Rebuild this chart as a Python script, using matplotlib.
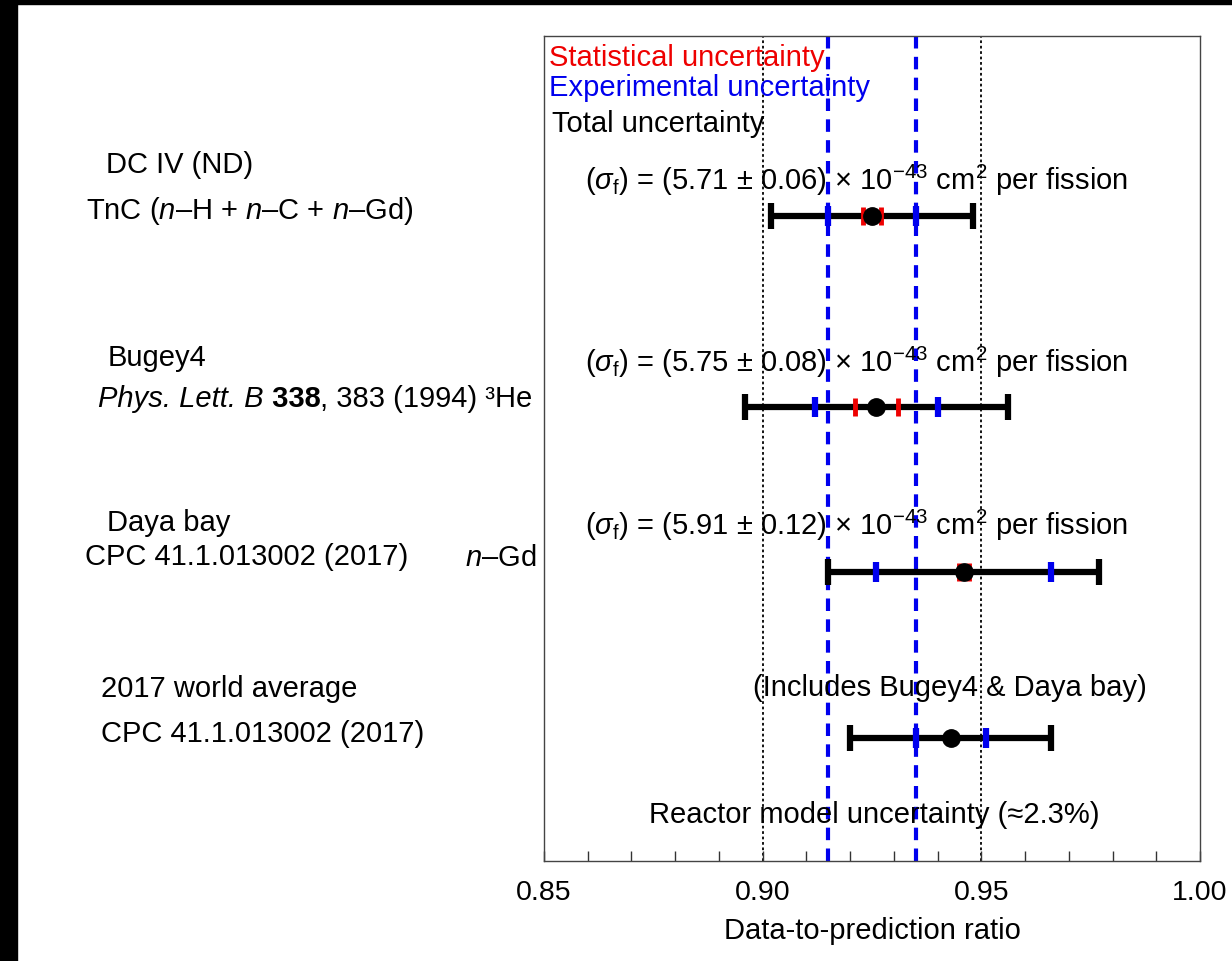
import matplotlib
matplotlib.use("Agg")
import matplotlib.pyplot as plt
from matplotlib.patches import Rectangle
from matplotlib.ticker import MultipleLocator

plt.rcParams["font.family"] = ["Liberation Sans", "DejaVu Sans"]
plt.rcParams["mathtext.fontset"] = "custom"
plt.rcParams["mathtext.rm"] = "Liberation Sans"
plt.rcParams["mathtext.it"] = "Liberation Sans:italic"
plt.rcParams["mathtext.bf"] = "Liberation Sans:bold"

# Measurements: central ratio and symmetric uncertainties
experiments = ["DC IV (ND)", "Bugey4", "Daya bay", "2017 world average"]
ratio = [0.925, 0.926, 0.946, 0.943]
total_err = [0.023, 0.030, 0.031, 0.023]
exp_err = [0.010, 0.014, 0.020, 0.008]
stat_err = [0.002, 0.005, 0.0012, None]
sigma_f = ["5.71", "5.75", "5.91"]
sigma_f_err = ["0.06", "0.08", "0.12"]

# Reference lines
model_band = [0.915, 0.935]
guide_lines = [0.90, 0.95]
xticks = [0.85, 0.90, 0.95, 1.00]

rows = [1.80, 3.71, 5.36, 7.02]
formula_rows = [1.43, 3.25, 4.88]

fig = plt.figure(figsize=(12.32, 9.62), dpi=100)
fig.patches.append(Rectangle((0, 0), 17 / 1232, 1, transform=fig.transFigure,
                             color="black", zorder=-10))
fig.patches.append(Rectangle((0, 1 - 5 / 962), 1, 5 / 962, transform=fig.transFigure,
                             color="black", zorder=-10))

ax = fig.add_axes([544 / 1232, 1 - 862 / 962, 656 / 1232, 825 / 962])
ax.set_xlim(0.85, 1.00)
ax.set_ylim(8.25, 0)

for x in guide_lines:
    ax.axvline(x, color="black", ls=(0, (1.5, 1.5)), lw=1.3, zorder=1)
for x in model_band:
    ax.axvline(x, color="#0000ee", ls=(0, (3, 2)), lw=3, zorder=1)

for i, y in enumerate(rows):
    ax.errorbar(ratio[i], y, xerr=total_err[i], fmt="none", ecolor="black",
                elinewidth=4.5, capsize=9.5, capthick=4.5, zorder=3)
    ax.errorbar(ratio[i], y, xerr=exp_err[i], fmt="none", ecolor="#0000ee",
                elinewidth=0, capsize=7, capthick=4.5, zorder=4)
    if stat_err[i] is not None:
        ax.errorbar(ratio[i], y, xerr=stat_err[i], fmt="none", ecolor="#ee0000",
                    elinewidth=0, capsize=6.5, capthick=3.5, zorder=4)
    ax.plot(ratio[i], y, "o", color="black", ms=12.5, zorder=5)

fs = 21
for i in range(3):
    ax.text(0.8594, formula_rows[i],
            r"$(\sigma_{\mathrm{f}})$ = (" + sigma_f[i] + r" $\pm$ " + sigma_f_err[i]
            + r") $\times$ 10$^{-43}$ cm$^{2}$ per fission",
            fontsize=fs, va="center", ha="left", zorder=6)

ax.text(0.8511, 0.21, "Statistical uncertainty", color="#ee0000", fontsize=fs,
        va="center", ha="left")
ax.text(0.8511, 0.51, "Experimental uncertainty", color="#0000ee", fontsize=fs,
        va="center", ha="left")
ax.text(0.8518, 0.87, "Total uncertainty", color="black", fontsize=fs,
        va="center", ha="left")
ax.text(0.9879, 6.51, "(Includes Bugey4 & Daya bay)", fontsize=fs,
        va="center", ha="right")
ax.text(0.9256, 7.78, "Reactor model uncertainty (\u22482.3%)", fontsize=fs,
        va="center", ha="center")

ax.set_xticks(xticks)
ax.set_xticklabels([f"{t:.2f}" for t in xticks], fontsize=20.5)
ax.xaxis.set_minor_locator(MultipleLocator(0.01))
ax.tick_params(axis="x", which="both", direction="in", length=7, width=1,
               color="#333333", pad=13, top=False)
ax.set_yticks([])
ax.set_xlabel("Data-to-prediction ratio", fontsize=fs, labelpad=8)
for s in ax.spines.values():
    s.set_color("#444444")
    s.set_linewidth(1)


def ftext(x, y, s, **kw):
    return fig.text(x / 1232, 1 - y / 962, s, fontsize=fs, va="baseline", ha="left", **kw)


# row labels, positioned by baseline in pixels
ftext(106, 173, "DC IV (ND)")
ftext(86, 219, r"TnC ($n$–H + $n$–C + $n$–Gd)")
ftext(108, 366, "Bugey4")

# journal reference built from italic / bold / regular pieces placed end to end
prev = fig.text(98 / 1232, 1 - 413 / 962, "Phys. Lett. B", fontsize=fs,
                style="italic", va="bottom", ha="left")
for piece, kw in [(" 338", {"weight": "bold"}),
                  (", 383 (1994) \u00b3He", {})]:
    prev = ax.annotate(piece, xy=(1, 0), xycoords=prev, va="bottom", ha="left",
                       fontsize=fs, annotation_clip=False, **kw)

ftext(107, 531, "Daya bay")
ftext(85, 565, "CPC 41.1.013002 (2017)")
ftext(465, 566, r"$n$–Gd")
ftext(101, 697, "2017 world average")
ftext(101, 742, "CPC 41.1.013002 (2017)")

fig.savefig("out.png", dpi=100, facecolor="white")
